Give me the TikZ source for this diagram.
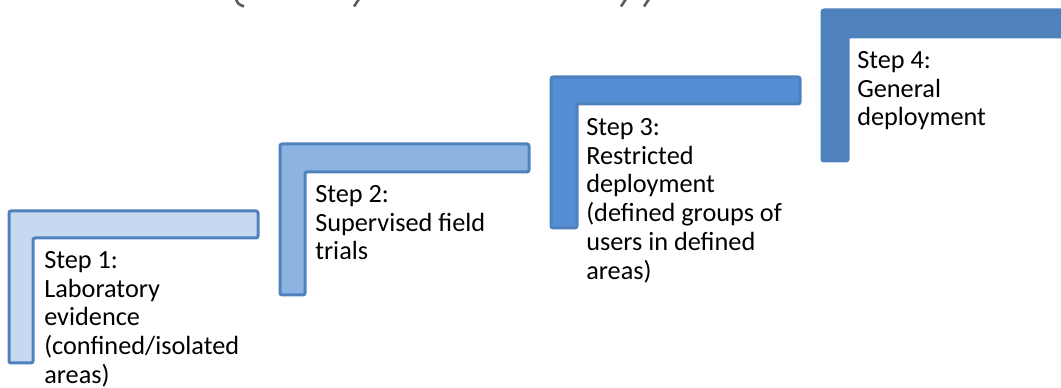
\documentclass[tikz,border=0pt]{standalone}
\usepackage{fontspec}
\setmainfont{Carlito}
\definecolor{frame}{RGB}{79,129,189}
\definecolor{fillA}{RGB}{198,217,241}
\definecolor{fillB}{RGB}{141,179,226}
\definecolor{fillC}{RGB}{85,142,213}
\definecolor{fillD}{RGB}{79,129,189}
\definecolor{titlegray}{RGB}{89,89,89}
\tikzset{
  halfframe/.style={draw=frame, line width=3pt*0.75, rounded corners=1.5pt, line join=round},
  steplabel/.style={anchor=north west, inner sep=0pt, align=left,
    font=\fontsize{19.7pt}{21.6pt}\selectfont, text=black},
  titlestroke/.style={draw=titlegray, line width=2.6pt*0.75}
}
% L-shaped step: #1 left, #2 top, #3 right, #4 bar bottom, #5 inner edge, #6 bottom
\newcommand{\stepframe}[7]{%
  \path[halfframe, fill=#7] (#1,#2) -- (#3,#2) -- (#3,#4) -- (#5,#4) -- (#5,#6) -- (#1,#6) -- cycle;}
\begin{document}
\begin{tikzpicture}[x=0.75pt, y=-0.75pt]
  \useasboundingbox (0,0) rectangle (1061,388);
  \begin{scope}
    \clip (0,0) rectangle (1061,388);
    % tails of the heading cut off at the top edge
    \draw[titlestroke] (236,-1) .. controls (238,4) .. (244,6.5);
    \draw[titlestroke] (359,-1) -- (354,6.5);
    \draw[titlestroke] (626,-1) -- (621,6.5);
    \draw[titlestroke] (649,-1) -- (644,6.5);

    % the four stair steps
    \stepframe{9}{211}{258}{238}{33}{363}{fillA}
    \stepframe{280}{144}{529}{172}{305}{295}{fillB}
    \stepframe{551}{77}{800}{104}{577}{228}{fillC}
    \stepframe{822}{10}{1075}{37}{848}{161}{fillD}

    \node[steplabel] (step1) at (44,251) {Step 1:\\Laboratory\\evidence\\(confined/isolated\\areas)};
    \node[steplabel] (step2) at (315,185) {Step 2:\\Supervised field\\trials};
    \node[steplabel] (step3) at (586,118) {Step 3:\\Restricted\\deployment\\(defined groups of\\users in defined\\areas)};
    \node[steplabel] (step4) at (857,51) {Step 4:\\General\\deployment};
  \end{scope}
\end{tikzpicture}
\end{document}
